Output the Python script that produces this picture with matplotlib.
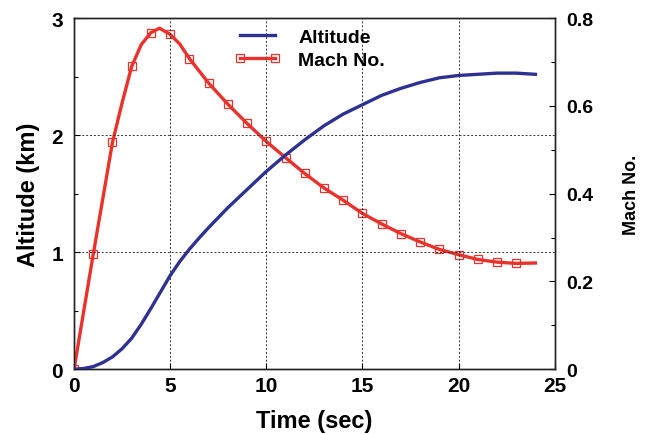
import matplotlib
matplotlib.use("Agg")
import matplotlib.pyplot as plt
from matplotlib.ticker import MultipleLocator
from matplotlib.lines import Line2D

plt.rcParams['font.family'] = ['Liberation Sans', 'DejaVu Sans']
plt.rcParams['font.weight'] = 'bold'

# Altitude (km) vs time (sec)
alt_time = [0, 0.5, 1, 1.5, 2, 2.5, 3, 3.5, 4, 4.5, 5, 5.5, 6, 6.5, 7, 8, 9, 10, 11, 12, 13,
            14, 15, 16, 17, 18, 19, 20, 21, 22, 23, 24]
altitude = [0, 0.006, 0.022, 0.057, 0.105, 0.175, 0.265, 0.385, 0.52, 0.66, 0.80, 0.92, 1.025,
            1.12, 1.21, 1.38, 1.535, 1.69, 1.83, 1.96, 2.08, 2.18, 2.26, 2.34, 2.40, 2.45,
            2.49, 2.51, 2.52, 2.53, 2.53, 2.52]

# Mach number vs time (sec)
mach_time = [0, 1, 2, 2.5, 3, 3.5, 4, 4.45, 5, 5.5, 6, 7, 8, 9, 10, 11, 12, 13, 14, 15, 16,
             17, 18, 19, 20, 21, 22, 23, 24]
mach = [0, 0.262, 0.517, 0.607, 0.690, 0.740, 0.767, 0.777, 0.763, 0.741, 0.708, 0.652,
        0.604, 0.560, 0.519, 0.482, 0.446, 0.413, 0.385, 0.355, 0.331, 0.309, 0.290, 0.273,
        0.261, 0.250, 0.244, 0.241, 0.242]
mach_marker_idx = [i for i, t in enumerate(mach_time) if float(t).is_integer() and t < 24]

x_ticks = [0, 5, 10, 15, 20, 25]
alt_ticks = [0, 1, 2, 3]
mach_ticks = [0, 0.2, 0.4, 0.6, 0.8]
mach_tick_labels = ['0', '0.2', '0.4', '0.6', '0.8']

blue = '#2e3192'
red = '#e8322b'

fig = plt.figure(figsize=(6.46, 4.35), dpi=100)
ax = fig.add_axes([0.1146, 0.149, 0.744, 0.807])
ax2 = ax.twinx()

ax.plot(alt_time, altitude, color=blue, lw=2.4, zorder=3, solid_joinstyle='round')
ax2.plot(mach_time, mach, color=red, lw=2.4, marker='s', markersize=6,
         markerfacecolor='none', markeredgecolor=red, markeredgewidth=0.9,
         markevery=mach_marker_idx, zorder=3, solid_joinstyle='round')

ax.set_xlim(0, 25)
ax.set_ylim(0, 3)
ax2.set_ylim(0, 0.8)
ax.set_xticks(x_ticks)
ax.set_yticks(alt_ticks)
ax.yaxis.set_minor_locator(MultipleLocator(0.5))
ax2.set_yticks(mach_ticks)
ax2.set_yticklabels(mach_tick_labels)
ax2.yaxis.set_minor_locator(MultipleLocator(0.1))

ax.grid(True, which='major', linestyle=(0, (2, 2)), color='#333333', lw=0.7)

for a in (ax, ax2):
    a.tick_params(axis='both', which='both', direction='in', labelsize=15, width=0.8)
    a.tick_params(which='major', length=4)
    a.tick_params(which='minor', length=3)
    for s in a.spines.values():
        s.set_linewidth(1.0)
        s.set_color('#222222')
ax2.tick_params(axis='y', labelsize=14)
ax.tick_params(axis='x', pad=5)
ax.tick_params(axis='y', pad=8)
ax2.tick_params(axis='y', pad=8)

ax.set_xlabel('Time (sec)', fontsize=17, fontweight='bold', labelpad=10)
ax.set_ylabel('Altitude (km)', fontsize=17, fontweight='bold', labelpad=8)
ax2.set_ylabel('Mach No.', fontsize=13, fontweight='bold', labelpad=22)

h1 = Line2D([], [], color=blue, lw=2.4)
h2 = Line2D([], [], color=red, lw=2.4, marker='s', markersize=6,
            markerfacecolor='none', markeredgecolor=red, markeredgewidth=0.9)
leg = ax.legend([h1, h2], ['Altitude', 'Mach No.'], loc='upper left',
                bbox_to_anchor=(0.297, 1.02), frameon=False,
                handlelength=2.4, handletextpad=0.9, labelspacing=0.25, numpoints=2,
                prop={'family': ['Liberation Sans', 'DejaVu Sans'], 'weight': 'bold', 'size': 14})
ax.set_zorder(ax2.get_zorder() + 1)
ax.patch.set_visible(False)

fig.savefig('out.png', dpi=100)
